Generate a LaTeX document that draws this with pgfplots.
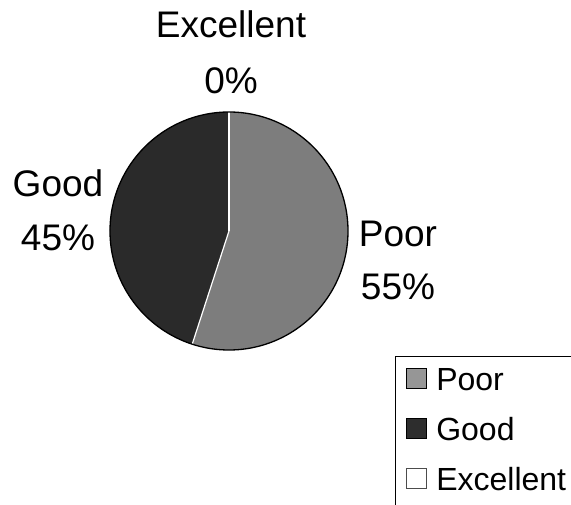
\documentclass[border=0pt]{standalone}
\usepackage{pgfplots}
\pgfplotsset{compat=1.18}
\usepackage{fontspec}
\setmainfont{Liberation Sans}
\definecolor{poorgray}{RGB}{125,125,125}
\definecolor{goodgray}{RGB}{42,42,42}
\definecolor{poorkey}{RGB}{150,150,150}
\definecolor{goodkey}{RGB}{45,45,45}
\begin{document}
\begin{tikzpicture}
\clip (0,0) rectangle (571pt,504pt);
\begin{axis}[
  at={(0,0)}, anchor=south west,
  width=571pt, height=504pt, scale only axis,
  xmin=0, xmax=571, ymin=0, ymax=504,
  hide axis, clip=false,
  legend style={at={(axis cs:395,148)}, anchor=north west,
    draw=black, line width=1pt, fill=white,
    font=\fontsize{32}{32}\selectfont,
    inner xsep=10pt, inner ysep=10pt, row sep=16pt, column sep=10pt,
    nodes={inner sep=0pt, text height=24pt, text depth=10pt,
           text width=150pt, align=left}},
  legend cell align=left,
  legend image code/.code={\draw[#1, line width=0.8pt] (0pt,-5pt) rectangle (20pt,15pt);},
]
% legend keys
\addlegendimage{fill=poorkey, draw=black}
\addlegendentry{Poor}
\addlegendimage{fill=goodkey, draw=black}
\addlegendentry{Good}
\addlegendimage{fill=white, draw=black!70}
\addlegendentry{Excellent}

% pie slices (percent shares: Poor 55, Good 45, Excellent 0), clockwise from the top
\fill[poorgray] (axis cs:229,273) -- ++(90:119pt)
  arc[start angle=90, delta angle={-3.6*55}, radius=119pt] -- cycle;
\fill[goodgray] (axis cs:229,273) -- ++({90-3.6*55}:119pt)
  arc[start angle={90-3.6*55}, delta angle={-3.6*45}, radius=119pt] -- cycle;
% slice borders
\draw[white, line width=1.2pt] (axis cs:229,273) -- ++(90:119pt);
\draw[white, line width=1.2pt] (axis cs:229,273) -- ++({90-3.6*55}:119pt);
\draw[black, line width=1.3pt] (axis cs:229,273) circle[radius=119pt];

% data labels
\node[anchor=base, font=\fontsize{37}{37}\selectfont] at (axis cs:231,466) {Excellent};
\node[anchor=base, font=\fontsize{37}{37}\selectfont] at (axis cs:231,410) {0\%};
\node[anchor=base, font=\fontsize{37}{37}\selectfont] at (axis cs:58,307) {Good};
\node[anchor=base, font=\fontsize{37}{37}\selectfont] at (axis cs:58,253) {45\%};
\node[anchor=base, font=\fontsize{37}{37}\selectfont] at (axis cs:398,257) {Poor};
\node[anchor=base, font=\fontsize{37}{37}\selectfont] at (axis cs:398,204) {55\%};
\end{axis}
\end{tikzpicture}
\end{document}
